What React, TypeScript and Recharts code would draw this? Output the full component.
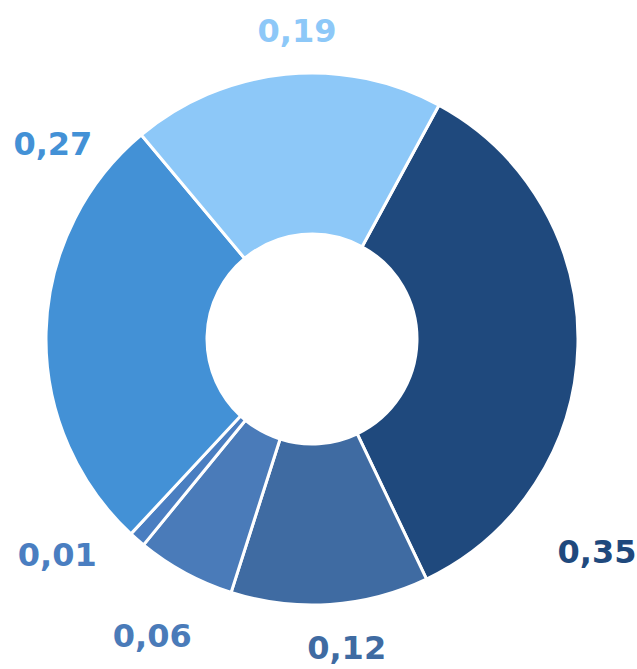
import React from "react";
import { PieChart, Pie, Cell } from "recharts";

// slices clockwise, starting at the dark one on the right
const values = [0.35, 0.12, 0.06, 0.01, 0.27, 0.19];
const labels = ["0,35", "0,12", "0,06", "0,01", "0,27", "0,19"];
const colors = ["#1F497D", "#3F6BA2", "#4A7BB9", "#4A7EC1", "#4391D6", "#8DC8F8"];

// label placement: angle clockwise from 12 o'clock, distance from centre
const labelSpots = [
  { angle: 126.8, dist: 356 },
  { angle: 173.6, dist: 311 },
  { angle: 208.3, dist: 337 },
  { angle: 229.7, dist: 334 },
  { angle: 306.9, dist: 324 },
  { angle: 357.2, dist: 308 },
];

const data = values.map((v, i) => ({ name: labels[i], value: v }));

const renderLabel = (props: any) => {
  const { cx, cy, index } = props;
  const spot = labelSpots[index];
  const rad = (spot.angle * Math.PI) / 180;
  const x = cx + spot.dist * Math.sin(rad);
  const y = cy - spot.dist * Math.cos(rad);
  return (
    <text
      x={x}
      y={y}
      fill={colors[index]}
      textAnchor="middle"
      dominantBaseline="central"
      fontFamily="'DejaVu Sans', Verdana, sans-serif"
      fontWeight="bold"
      fontSize={32}
    >
      {labels[index]}
    </text>
  );
};

export default function App() {
  return (
    <div style={{ position: "absolute", left: 0, top: 0, background: "#fff" }}>
      <PieChart width={637} height={669}>
        <Pie
          data={data}
          dataKey="value"
          cx={307}
          cy={334}
          innerRadius={105}
          outerRadius={266}
          startAngle={61.5}
          endAngle={-298.5}
          stroke="#ffffff"
          strokeWidth={3}
          label={renderLabel}
          labelLine={false}
          isAnimationActive={false}
        >
          {data.map((d, i) => (
            <Cell key={d.name} fill={colors[i]} />
          ))}
        </Pie>
      </PieChart>
    </div>
  );
}
